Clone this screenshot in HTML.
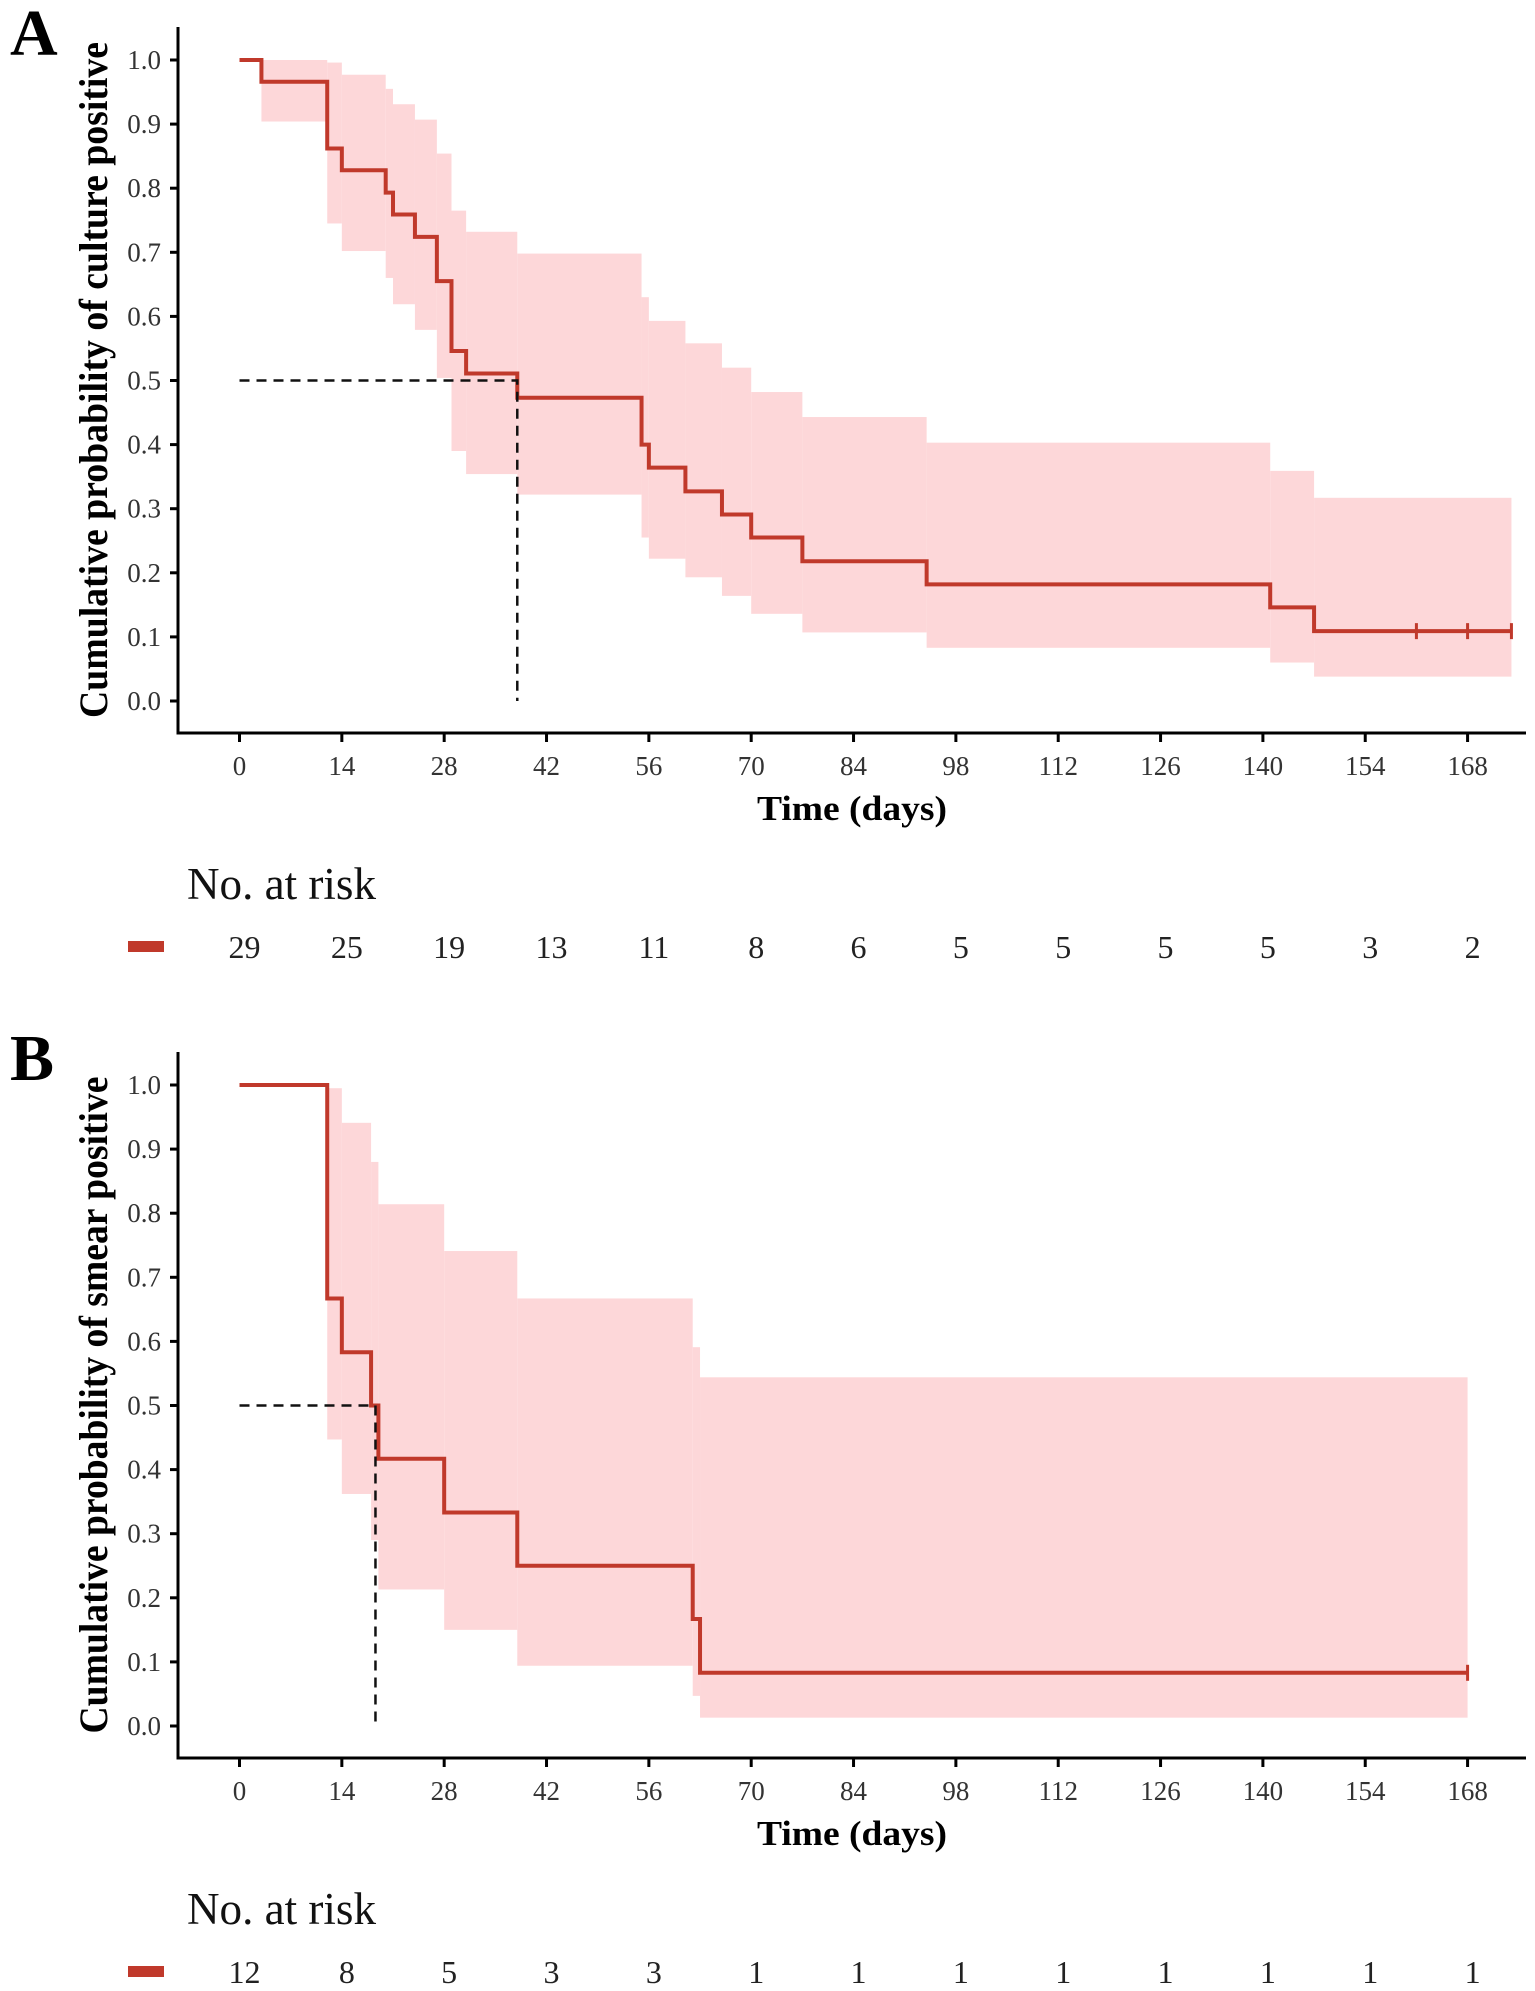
<!DOCTYPE html>
<html><head><meta charset="utf-8"><style>
html,body{margin:0;padding:0;background:#fff;}
svg{display:block;font-family:"Liberation Serif",serif;}
</style></head><body>
<svg id="chart" width="1535" height="1991" viewBox="0 0 1535 1991" xmlns="http://www.w3.org/2000/svg"></svg>
<script>
// Panel A data (culture)
const aTimes = [0, 3, 12, 14, 20, 21, 24, 27, 29, 31, 38, 55, 56, 61, 66, 70, 77, 94, 141, 147];
const aSurv  = [1, 0.966, 0.862, 0.828, 0.793, 0.759, 0.724, 0.655, 0.546, 0.511, 0.473, 0.40, 0.364, 0.327, 0.291, 0.255, 0.218, 0.182, 0.146, 0.109];
const aUpper = [null, 1.0, 0.996, 0.977, 0.955, 0.931, 0.907, 0.854, 0.765, 0.732, 0.698, 0.63, 0.593, 0.558, 0.52, 0.482, 0.443, 0.403, 0.359, 0.317];
const aLower = [null, 0.904, 0.745, 0.702, 0.66, 0.619, 0.579, 0.504, 0.39, 0.354, 0.322, 0.255, 0.222, 0.193, 0.164, 0.136, 0.107, 0.083, 0.06, 0.038];
const aEnd = 174;
const aCensor = [161, 168, 174];
const aMedian = 38;
const aRisk = [29, 25, 19, 13, 11, 8, 6, 5, 5, 5, 5, 3, 2];
// Panel B data (smear)
const bTimes = [0, 12, 14, 18, 19, 28, 38, 62, 63];
const bSurv  = [1, 0.667, 0.583, 0.5, 0.417, 0.333, 0.25, 0.167, 0.083];
const bUpper = [null, 0.995, 0.941, 0.88, 0.814, 0.741, 0.667, 0.591, 0.544];
const bLower = [null, 0.447, 0.362, 0.29, 0.213, 0.15, 0.094, 0.047, 0.013];
const bEnd = 168;
const bCensor = [168];
const bMedian = 18.6;
const bRisk = [12, 8, 5, 3, 3, 1, 1, 1, 1, 1, 1, 1, 1];
const xTicks = [0, 14, 28, 42, 56, 70, 84, 98, 112, 126, 140, 154, 168];
const yTicks = [0, 0.1, 0.2, 0.3, 0.4, 0.5, 0.6, 0.7, 0.8, 0.9, 1.0];

const NS = "http://www.w3.org/2000/svg";
const svg = document.getElementById('chart');
function mk(tag, attrs, parent) {
  const e = document.createElementNS(NS, tag);
  for (const k in attrs) e.setAttribute(k, attrs[k]);
  (parent || svg).appendChild(e);
  return e;
}
const X = d => 239.5 + d * 7.31;

function panel(off, letter, ytitle, titleLen, times, surv, upper, lower, end, censor, median, risk, key) {
  const Y = v => off + 701 - v * 641;
  const g = mk('g', {});
  
  
  // CI band
  for (let i = 1; i < times.length; i++) {
    const t1 = i + 1 < times.length ? times[i + 1] : end;
    const r = mk('rect', {x: X(times[i]), y: Y(upper[i]), width: X(t1) - X(times[i]), height: Y(lower[i]) - Y(upper[i]), fill: '#fdd7d9'}, g);
    
    
  }
  // curve
  let d = 'M' + X(times[0]) + ' ' + Y(surv[0]);
  for (let i = 1; i < times.length; i++) d += ' H' + X(times[i]) + ' V' + Y(surv[i]);
  d += ' H' + X(end);
  const p = mk('path', {d: d, fill: 'none', stroke: '#c0392b', 'stroke-width': 4}, g);
  
  
  const last = surv[surv.length - 1];
  censor.forEach(c => {
    const m = mk('line', {x1: X(c), x2: X(c), y1: Y(last) - 8, y2: Y(last) + 8, stroke: '#c0392b', 'stroke-width': 3}, g);
    
    
  });
  // median lines
  const md = mk('path', {d: 'M' + X(0) + ' ' + Y(0.5) + ' H' + X(median) + ' V' + Y(0), fill: 'none', stroke: '#111', 'stroke-width': 2.5, 'stroke-dasharray': '10 7'}, g);
  
  
  // axes
  const ax = mk('path', {d: 'M178 ' + (off + 27) + ' V' + (off + 733) + ' H1526', fill: 'none', stroke: '#000', 'stroke-width': 3}, g);
  
  
  yTicks.forEach(v => {
    mk('line', {x1: 170, x2: 178, y1: Y(v), y2: Y(v), stroke: '#000', 'stroke-width': 3}, g);
    const t = mk('text', {x: 161, y: Y(v) + 9, 'text-anchor': 'end', 'font-size': 27, fill: '#333'}, g);
    t.textContent = v.toFixed(1);
    
    
  });
  xTicks.forEach((v, i) => {
    mk('line', {x1: X(v), x2: X(v), y1: off + 733, y2: off + 742, stroke: '#000', 'stroke-width': 3}, g);
    const t = mk('text', {x: X(v), y: off + 775, 'text-anchor': 'middle', 'font-size': 27, fill: '#333'}, g);
    t.textContent = v;
    
    
    const r = mk('text', {x: X(v) + 5, y: off + 958, 'text-anchor': 'middle', 'font-size': 32, fill: '#222'}, g);
    r.textContent = risk[i];
    
    
  });
  const xt = mk('text', {x: 852, y: off + 820, 'text-anchor': 'middle', 'font-size': 35, 'font-weight': 'bold', textLength: 190, lengthAdjust: 'spacingAndGlyphs'}, g);
  xt.textContent = 'Time (days)';
  
  
  const yt = mk('text', {x: 0, y: 0, 'text-anchor': 'middle', 'font-size': 40, 'font-weight': 'bold', textLength: titleLen, lengthAdjust: 'spacingAndGlyphs', transform: 'translate(107,' + (off + 380) + ') rotate(-90)'}, g);
  yt.textContent = ytitle;
  
  
  const L = mk('text', {x: 10, y: off + 55, 'font-size': 66, 'font-weight': 'bold'}, g);
  L.textContent = letter;
  
  
  const nr = mk('text', {x: 187, y: off + 899, 'font-size': 45, fill: '#111', textLength: 189, lengthAdjust: 'spacingAndGlyphs'}, g);
  nr.textContent = 'No. at risk';
  
  
  const lb = mk('rect', {x: 128, y: off + 941, width: 36, height: 11, fill: '#c0392b'}, g);
  
  
}
panel(0, 'A', 'Cumulative probability of culture positive', 676, aTimes, aSurv, aUpper, aLower, aEnd, aCensor, aMedian, aRisk, 'a');
panel(1025, 'B', 'Cumulative probability of smear positive', 657, bTimes, bSurv, bUpper, bLower, bEnd, bCensor, bMedian, bRisk, 'b');
</script>
</body></html>
